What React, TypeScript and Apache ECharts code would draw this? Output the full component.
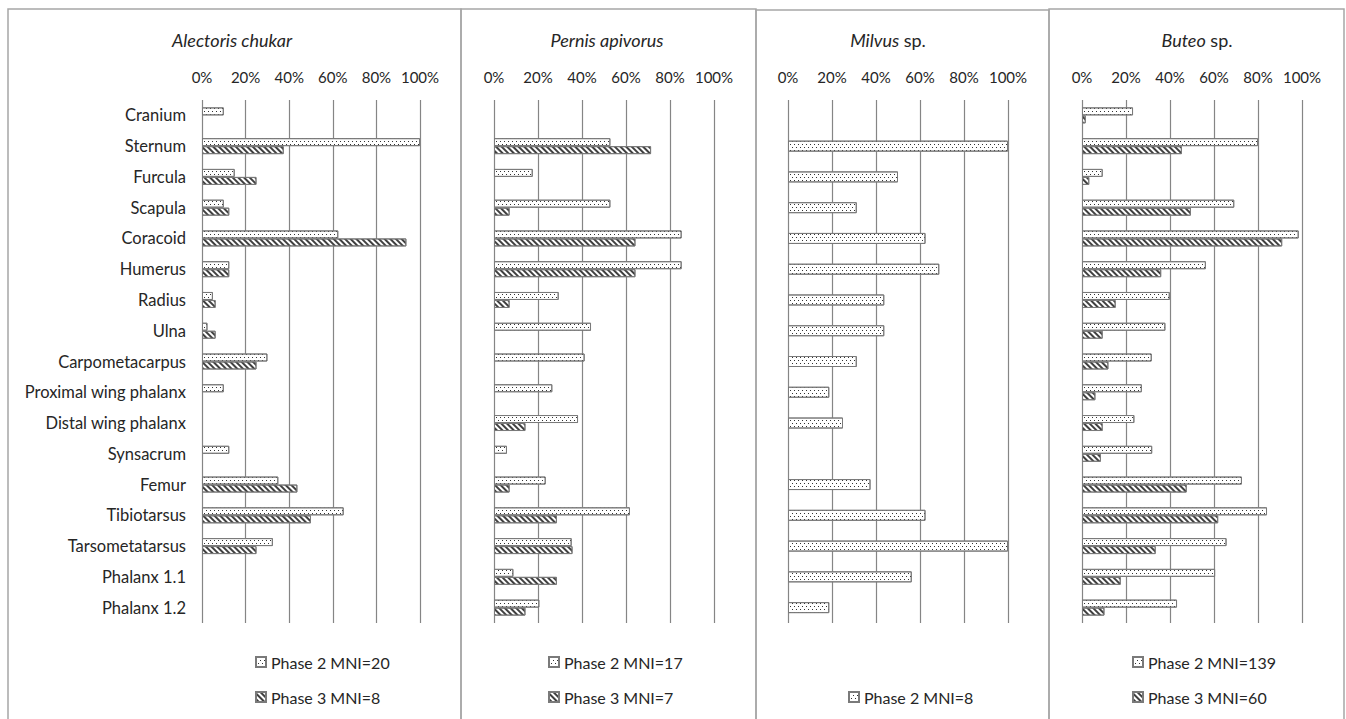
import React, { useEffect, useRef } from 'react';
import * as echarts from 'echarts';

const categories = [
  'Cranium', 'Sternum', 'Furcula', 'Scapula', 'Coracoid', 'Humerus', 'Radius', 'Ulna',
  'Carpometacarpus', 'Proximal wing phalanx', 'Distal wing phalanx', 'Synsacrum', 'Femur',
  'Tibiotarsus', 'Tarsometatarsus', 'Phalanx 1.1', 'Phalanx 1.2',
];

const alectorisP2 = [10, 100, 15, 10, 62.5, 12.5, 5, 2.5, 30, 10, null, 12.5, 35, 65, 32.5, null, null];
const alectorisP3 = [null, 37.5, 25, 12.5, 93.75, 12.5, 6.25, 6.25, 25, null, null, null, 43.75, 50, 25, null, null];

const pernisP2 = [null, 52.9, 17.6, 52.9, 85.3, 85.3, 29.4, 44.1, 41.2, 26.5, 38.2, 5.9, 23.5, 61.8, 35.3, 8.8, 20.6];
const pernisP3 = [null, 71.4, null, 7.1, 64.3, 64.3, 7.1, null, null, null, 14.3, null, 7.1, 28.6, 35.7, 28.6, 14.3];

const milvusP2 = [null, 100, 50, 31.25, 62.5, 68.75, 43.75, 43.75, 31.25, 18.75, 25, null, 37.5, 62.5, 100, 56.25, 18.75];

const buteoP2 = [23.2, 80.0, 9.4, 69.2, 98.5, 56.3, 39.9, 37.9, 31.7, 27.2, 23.8, 31.9, 72.7, 84.1, 65.7, 60.5, 43.2];
const buteoP3 = [1.7, 45.4, 3.3, 49.5, 91.0, 36.0, 15.3, 9.4, 12.0, 6.1, 9.4, 8.6, 47.6, 61.9, 33.5, 17.6, 10.2];

const panelTitles = ['Alectoris chukar', 'Pernis apivorus', '{i|Milvus} sp.', '{i|Buteo} sp.'];
const seriesNames = [
  ['Phase 2 MNI=20', 'Phase 3 MNI=8'],
  ['Phase 2 MNI=17', 'Phase 3 MNI=7'],
  ['Phase 2 MNI=8'],
  ['Phase 2 MNI=139', 'Phase 3 MNI=60'],
];
const seriesData = [
  [alectorisP2, alectorisP3],
  [pernisP2, pernisP3],
  [milvusP2],
  [buteoP2, buteoP3],
];

const FONT = 'Lato, "Open Sans", sans-serif';
const TEXT = '#262626';

const grids = [
  { left: 202, top: 100, width: 218, height: 523 },
  { left: 494, top: 100, width: 220, height: 523 },
  { left: 788, top: 100, width: 220, height: 523 },
  { left: 1082, top: 100, width: 220, height: 523 },
];
const titleX = [232, 607, 888, 1197];
const legendPos = [
  { left: 250, top: 649 },
  { left: 543, top: 649 },
  { left: 843, top: 684 },
  { left: 1127, top: 649 },
];
const panelRects = [
  [8, 9, 453, 730],
  [461, 9, 295, 730],
  [756, 10, 293, 730],
  [1049, 9, 295, 730],
];

const dotDecal = {
  symbol: 'rect',
  symbolSize: 1,
  color: '#333333',
  backgroundColor: '#ffffff',
  dashArrayX: [[1, 3], [0, 2, 1, 1]],
  dashArrayY: [1, 2],
  rotation: 0,
};
const hatchDecal = {
  symbol: 'rect',
  symbolSize: 1,
  color: '#404040',
  backgroundColor: '#ffffff',
  dashArrayX: [1, 0],
  dashArrayY: [2, 1.5],
  rotation: Math.PI / 4,
};

function buildOption() {
  const xAxis: any[] = [];
  const yAxis: any[] = [];
  const series: any[] = [];
  const legend: any[] = [];
  const graphic: any[] = [];

  grids.forEach((g, i) => {
    xAxis.push({
      type: 'value',
      gridIndex: i,
      position: 'top',
      min: 0,
      max: 100,
      interval: 20,
      axisLine: { show: false },
      axisTick: { show: false },
      axisLabel: { formatter: '{value}%', fontSize: 15, color: TEXT, fontFamily: FONT, margin: 16 },
      splitLine: { show: true, lineStyle: { color: '#858585', width: 1.2 } },
    });
    yAxis.push({
      type: 'category',
      gridIndex: i,
      inverse: true,
      data: categories,
      axisLine: { show: false },
      axisTick: { show: false },
      axisLabel: { show: i === 0, fontSize: 16.5, color: TEXT, fontFamily: FONT, margin: 16 },
      splitLine: { show: false },
    });
    const names = seriesNames[i];
    const datas = seriesData[i];
    names.forEach((name, k) => {
      series.push({
        type: 'bar',
        name,
        xAxisIndex: i,
        yAxisIndex: i,
        data: datas[k],
        barWidth: names.length === 1 ? 11 : 8,
        barGap: '0%',
        itemStyle: {
          color: '#ffffff',
          borderColor: '#7a7a7a',
          borderWidth: 1,
          decal: k === 0 ? dotDecal : hatchDecal,
        },
        emphasis: { disabled: true },
      });
    });
    legend.push({
      data: names,
      left: legendPos[i].left,
      top: legendPos[i].top,
      orient: 'vertical',
      itemGap: 19,
      itemWidth: 10,
      itemHeight: 10,
      icon: 'rect',
      selectedMode: false,
      textStyle: { fontSize: 16, color: TEXT, fontFamily: FONT, padding: [0, 0, 0, 0] },
    });
    graphic.push({
      type: 'text',
      x: titleX[i],
      y: 40,
      style: {
        text: panelTitles[i],
        textAlign: 'center',
        textVerticalAlign: 'middle',
        fontSize: 18,
        fontFamily: FONT,
        fontStyle: i < 2 ? 'italic' : 'normal',
        fill: TEXT,
        rich: { i: { fontStyle: 'italic', fontSize: 18, fontFamily: FONT, fill: TEXT } },
      },
    });
    const r = panelRects[i];
    graphic.push({
      type: 'rect',
      shape: { x: r[0], y: r[1], width: r[2], height: r[3] },
      style: { fill: 'none', stroke: '#a6a6a6', lineWidth: 1.5 },
      silent: true,
    });
  });

  return {
    animation: false,
    backgroundColor: '#ffffff',
    grid: grids,
    xAxis,
    yAxis,
    series,
    legend,
    graphic,
  };
}

export default function App() {
  const ref = useRef<HTMLDivElement>(null);
  useEffect(() => {
    document.body.style.margin = '0';
    const chart = echarts.init(ref.current as HTMLDivElement, null, { renderer: 'svg' });
    chart.setOption(buildOption() as any);
    return () => chart.dispose();
  }, []);
  return <div ref={ref} style={{ width: 1346, height: 719, background: '#fff' }} />;
}
